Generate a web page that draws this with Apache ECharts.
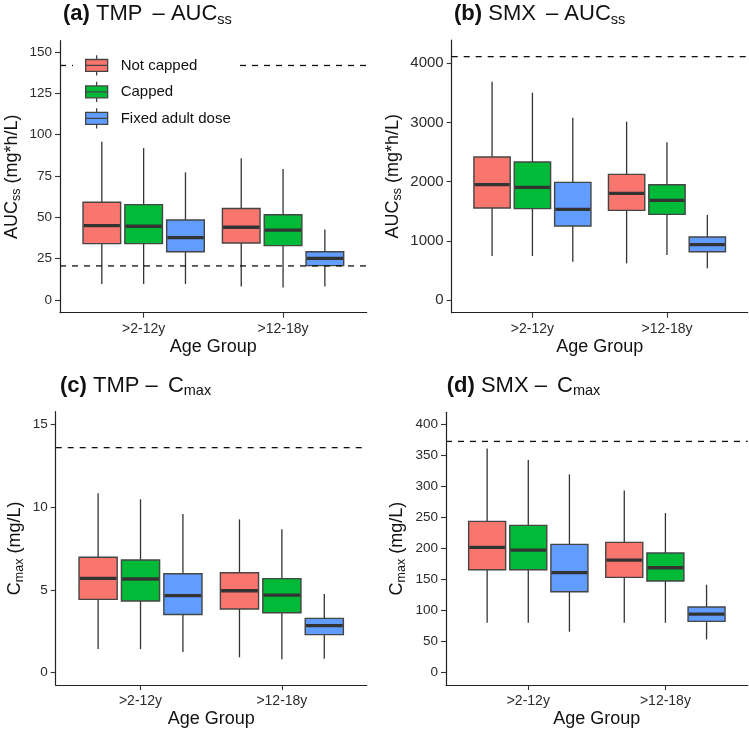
<!DOCTYPE html>
<html><head><meta charset="utf-8">
<script src="https://cdn.jsdelivr.net/npm/echarts@6/dist/echarts.min.js"></script>
<style>html,body{margin:0;padding:0;background:#fff}#c{width:749px;height:731px}</style>
</head><body><div id="c"></div>
<script>
// ---------- data ----------
const ageGroups = ['>2-12y', '>12-18y'];
const groups = ['Not capped', 'Capped', 'Fixed adult dose'];
const groupColors = ['#F8766D', '#00BA38', '#619CFF'];
// each entry: [lower whisker, Q1, median, Q3, upper whisker]; first >2-12y, then >12-18y
const tmpAucNotCapped = [[9.7, 34.1, 45.0, 59.1, 95.8], [8.1, 34.5, 44.0, 55.4, 85.7]];
const tmpAucCapped    = [[9.7, 34.1, 44.6, 57.7, 91.9], [7.5, 32.9, 42.3, 51.6, 79.2]];
const tmpAucFixed     = [[9.7, 29.2, 37.7, 48.4, 77.2], [8.1, 20.8, 25.2, 29.2, 42.7]];
const smxAucNotCapped = [[744, 1555, 1949, 2417, 3690], [620, 1515, 1803, 2124, 3014]];
const smxAucCapped    = [[744, 1544, 1904, 2332, 3504], [761, 1448, 1685, 1949, 2665]];
const smxAucFixed     = [[648, 1251, 1532, 1989, 3082], [535, 817, 935, 1065, 1437]];
const tmpCmaxNotCapped = [[1.43, 4.43, 5.70, 6.97, 10.83], [0.93, 3.85, 4.95, 6.04, 9.26]];
const tmpCmaxCapped    = [[1.43, 4.33, 5.66, 6.81, 10.47], [0.81, 3.62, 4.69, 5.68, 8.66]];
const tmpCmaxFixed     = [[1.25, 3.52, 4.65, 5.98, 9.58], [0.85, 2.30, 2.84, 3.28, 4.75]];
const smxCmaxNotCapped = [[80.5, 165.9, 201.9, 243.8, 361.3], [80.5, 153.6, 181.5, 209.9, 293.7]];
const smxCmaxCapped    = [[80.5, 165.9, 197.6, 237.3, 342.6], [80.5, 147.7, 169.1, 192.8, 257.2]];
const smxCmaxFixed     = [[66.0, 130.5, 161.1, 206.7, 319.5], [53.7, 82.7, 94.5, 105.8, 141.7]];
// dashed reference lines
const tmpAucRefs = [141.9, 20.6];
const smxAucRefs = [4113];
const tmpCmaxRefs = [13.59];
const smxCmaxRefs = [372.6];
// tick labels
const yTicksA = [0, 25, 50, 75, 100, 125, 150];
const yTicksB = [0, 1000, 2000, 3000, 4000];
const yTicksC = [0, 5, 10, 15];
const yTicksD = [0, 50, 100, 150, 200, 250, 300, 350, 400];
const xTicks = [1, 2];

// ---------- layout ----------
const panels = [
  {grid:{left:60, top:40.7, width:306.7, height:272}, ymin:-7.7, ymax:156.9, ticks:yTicksA,
   series:[tmpAucNotCapped, tmpAucCapped, tmpAucFixed], refs:tmpAucRefs,
   yname:'AUC{s|ss} (mg*h/L)', ygap:37, tickSize:13.5,
   title:'{b|(a)} TMP {d|–} AUC{s|ss}', dpad:[0,0,0,4], tl:63, tt:1},
  {grid:{left:451.7, top:40, width:296, height:272.7}, ymin:-214, ymax:4394, ticks:yTicksB,
   series:[smxAucNotCapped, smxAucCapped, smxAucFixed], refs:smxAucRefs,
   yname:'AUC{s|ss} (mg*h/L)', ygap:48, tickSize:15,
   title:'{b|(b)} SMX {d|–} AUC{s|ss}', dpad:[0,0,0,4], tl:454, tt:1},
  {grid:{left:55.7, top:411.7, width:311, height:273.3}, ymin:-0.74, ymax:15.76, ticks:yTicksC,
   series:[tmpCmaxNotCapped, tmpCmaxCapped, tmpCmaxFixed], refs:tmpCmaxRefs,
   yname:'C{s|max} (mg/L)', ygap:30, tickSize:13.5,
   title:'{b|(c)} TMP {d|–} C{s|max}', dpad:[0,4,0,0], tl:60, tt:372.5},
  {grid:{left:446, top:412.3, width:301.7, height:272.7}, ymin:-19.8, ymax:419.5, ticks:yTicksD,
   series:[smxCmaxNotCapped, smxCmaxCapped, smxCmaxFixed], refs:smxCmaxRefs,
   yname:'C{s|max} (mg/L)', ygap:38, tickSize:13.5,
   title:'{b|(d)} SMX {d|–} C{s|max}', dpad:[0,4,0,0], tl:446.7, tt:372.5}
];

const FONT = 'Liberation Sans, Arial, Helvetica, sans-serif';
const BOX_W = 0.27;
const offsets = [-0.3, 0, 0.3];
const XMIN = 0.4, XMAX = 2.6;

function makeRender(offset) {
  return function (params, api) {
    const x = api.value(0) + offset;
    const lo = api.coord([x, api.value(1)]);
    const q1 = api.coord([x, api.value(2)]);
    const md = api.coord([x, api.value(3)]);
    const q3 = api.coord([x, api.value(4)]);
    const hi = api.coord([x, api.value(5)]);
    const w = api.size([BOX_W, 0])[0];
    const cx = lo[0];
    return {type:'group', children:[
      {type:'line', shape:{x1:cx, y1:hi[1], x2:cx, y2:lo[1]}, style:{stroke:'#333', lineWidth:1.3}},
      {type:'rect', shape:{x:cx - w/2, y:q3[1], width:w, height:q1[1] - q3[1]},
       style:{fill:api.visual('color'), stroke:'#454545', lineWidth:1.4}},
      {type:'line', shape:{x1:cx - w/2 + 0.7, y1:md[1], x2:cx + w/2 - 0.7, y2:md[1]}, style:{stroke:'#333', lineWidth:3.3}}
    ]};
  };
}

const subRich = {
  s:{fontSize:12.5, verticalAlign:'bottom', lineHeight:14, fontFamily:FONT, color:'#111'}
};

const grids = [], xAxes = [], yAxes = [], series = [], titles = [];
panels.forEach((p, i) => {
  grids.push(Object.assign({containLabel:false}, p.grid));
  xAxes.push({
    type:'value', gridIndex:i, min:XMIN, max:XMAX,
    axisLine:{show:true, onZero:false, lineStyle:{color:'#222', width:1.2}},
    splitLine:{show:false},
    axisTick:{show:true, customValues:xTicks, length:5, lineStyle:{color:'#333', width:1.1}},
    axisLabel:{customValues:xTicks, formatter:v => ageGroups[Math.round(v) - 1], fontSize:14, color:'#2b2b2b', margin:9, fontFamily:FONT},
    name:'Age Group', nameLocation:'middle', nameGap:25,
    nameTextStyle:{fontSize:18, color:'#111', fontFamily:FONT}
  });
  yAxes.push({
    type:'value', gridIndex:i, min:p.ymin, max:p.ymax,
    axisLine:{show:true, onZero:false, lineStyle:{color:'#222', width:1.2}},
    splitLine:{show:false},
    axisTick:{show:true, customValues:p.ticks, length:5, lineStyle:{color:'#333', width:1.1}},
    axisLabel:{customValues:p.ticks, formatter:v => String(v), fontSize:p.tickSize, color:'#2b2b2b', margin:8, fontFamily:FONT},
    name:p.yname, nameLocation:'middle', nameGap:p.ygap, nameRotate:90,
    nameTextStyle:{fontSize:18, color:'#111', fontFamily:FONT, lineHeight:22, rich:subRich}
  });
  p.series.forEach((vals, g) => {
    series.push({
      type:'custom', name:groups[g], xAxisIndex:i, yAxisIndex:i,
      itemStyle:{color:groupColors[g]},
      renderItem:makeRender(offsets[g]),
      encode:{x:0, y:[1,2,3,4,5]},
      data:vals.map((v, k) => [xTicks[k]].concat(v)),
      z:2
    });
  });
  p.refs.forEach((r, k) => {
    series.push({
      type:'line', name:'ref' + i + '_' + k, xAxisIndex:i, yAxisIndex:i,
      data:[[XMIN, r], [XMAX, r]], symbol:'none', silent:true,
      lineStyle:{color:'#111', width:1.3, type:[6, 6]}, z:3
    });
  });
  titles.push({
    text:p.title, left:p.tl, top:p.tt, padding:0,
    textStyle:{fontSize:22, fontWeight:'normal', color:'#111', fontFamily:FONT, lineHeight:26,
      rich:{
        b:{fontSize:22, fontWeight:'bold', color:'#111', fontFamily:FONT, lineHeight:26},
        d:{fontSize:22, color:'#111', fontFamily:FONT, lineHeight:26, padding:p.dpad},
        s:{fontSize:14.5, color:'#111', fontFamily:FONT, verticalAlign:'bottom', lineHeight:14}
      }}
  });
});

const iconPath = 'path://M12,0L12,4.5M0,4.5L24,4.5L24,17.5L0,17.5ZM0,11L24,11M12,17.5L12,22';

const chart = echarts.init(document.getElementById('c'), null, {renderer:'canvas'});
chart.setOption({
  animation:false,
  backgroundColor:'#fff',
  color:groupColors,
  textStyle:{fontFamily:FONT},
  title:titles,
  grid:grids, xAxis:xAxes, yAxis:yAxes,
  legend:{
    data:groups.map(n => ({name:n, icon:iconPath})),
    orient:'vertical', left:73, top:50.7, itemWidth:22, itemHeight:22, itemGap:5,
    padding:[4, 9, 4, 12], backgroundColor:'#fff', selectedMode:false,
    itemStyle:{borderColor:'#444', borderWidth:1.3},
    textStyle:{fontSize:15, color:'#111', fontFamily:FONT, padding:[0, 0, 0, 8]}
  },
  series:series
});
</script></body></html>
